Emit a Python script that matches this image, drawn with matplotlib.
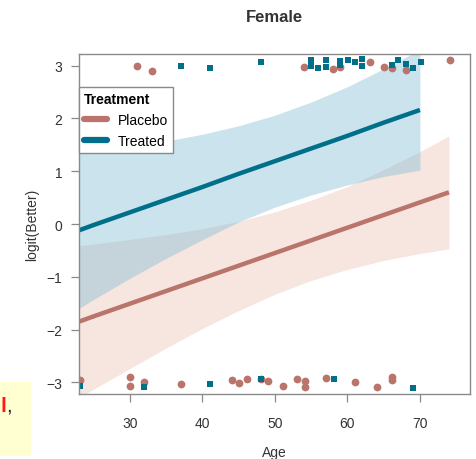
import matplotlib
matplotlib.use("Agg")
import matplotlib.pyplot as plt
from matplotlib.lines import Line2D
from matplotlib.patches import Rectangle

plt.rcParams["font.family"] = ["Liberation Sans", "DejaVu Sans"]

# fitted logit(Better) with 95% band, Placebo group
placebo_age = [23, 25, 30, 35, 40, 45, 50, 55, 60, 65, 70, 74]
placebo_fit = [-1.85, -1.75, -1.51, -1.27, -1.03, -0.79, -0.55, -0.31, -0.07, 0.17, 0.41, 0.60]
placebo_lo = [-3.29, -3.13, -2.74, -2.35, -1.98, -1.64, -1.33, -1.07, -0.86, -0.69, -0.56, -0.47]
placebo_hi = [-0.41, -0.38, -0.29, -0.20, -0.09, 0.05, 0.23, 0.45, 0.71, 1.03, 1.37, 1.67]

# fitted logit(Better) with 95% band, Treated group
treated_age = [23, 25, 30, 35, 40, 45, 50, 55, 60, 65, 70]
treated_fit = [-0.12, -0.02, 0.22, 0.46, 0.70, 0.95, 1.19, 1.43, 1.67, 1.92, 2.16]
treated_lo = [-1.60, -1.43, -1.03, -0.65, -0.30, 0.04, 0.32, 0.55, 0.74, 0.90, 1.02]
treated_hi = [1.36, 1.39, 1.47, 1.57, 1.70, 1.86, 2.06, 2.31, 2.60, 2.94, 3.30]

# jittered observations (Better = yes drawn near +3, no near -3)
placebo_yes_age = [31.0, 33.1, 54.0, 58.0, 59.0, 63.1, 65.1, 66.1, 68.1, 74.1]
placebo_yes_y = [3.00, 2.89, 2.98, 2.93, 2.97, 3.06, 2.98, 2.95, 2.91, 3.11]
placebo_no_age = [23.1, 30.0, 30.0, 32.0, 37.1, 44.1, 45.1, 46.1, 48.1, 49.1,
                  51.1, 53.1, 54.1, 54.1, 57.1, 61.1, 64.1, 66.1, 66.1]
placebo_no_y = [-2.95, -2.89, -3.07, -2.99, -3.03, -2.95, -3.02, -2.94, -2.93, -2.97,
                -3.07, -2.93, -2.97, -3.09, -2.92, -3.00, -3.08, -2.90, -2.95]

treated_yes_age = [37.1, 41.1, 48.1, 55.0, 55.0, 56.0, 57.1, 57.1, 59.0, 59.0,
                   60.1, 61.0, 62.0, 62.0, 66.1, 67.0, 68.1, 69.1, 70.1]
treated_yes_y = [2.99, 2.95, 3.07, 3.11, 3.00, 2.95, 3.11, 2.98, 3.09, 3.02,
                 3.10, 3.06, 3.13, 3.00, 3.02, 3.10, 3.04, 2.95, 3.07]
treated_no_age = [23.2, 32.0, 41.1, 48.1, 58.1, 69.1]
treated_no_y = [-3.06, -3.09, -3.03, -2.94, -2.94, -3.10]

x_ticks = [30, 40, 50, 60, 70]
y_ticks = [-3, -2, -1, 0, 1, 2, 3]

placebo_col = "#b9756b"
treated_col = "#00708a"
grey = "#8a8a8a"

fig = plt.figure(figsize=(4.77, 4.60), dpi=100)

# bit of the slide showing behind the plot
fig.patches.append(Rectangle((0, 3 / 460), 31 / 477, 74 / 460, transform=fig.transFigure,
                             facecolor="#ffffd2", edgecolor="none", zorder=0))
fig.text(0.0, 1 - 412 / 460, "l", color="#ff1a1a", fontsize=15, fontweight="bold")
fig.text(6 / 477, 1 - 412 / 460, ",", color="#222222", fontsize=15)

ax = fig.add_axes([79 / 477, 1 - 395 / 460, 391 / 477, 340 / 460])

ax.fill_between(placebo_age, placebo_lo, placebo_hi, color="#efc7bc", alpha=0.45, lw=0)
ax.fill_between(treated_age, treated_lo, treated_hi, color="#8ac1d5", alpha=0.45, lw=0)
ax.plot(placebo_age, placebo_fit, color=placebo_col, lw=3.2, solid_capstyle="butt")
ax.plot(treated_age, treated_fit, color=treated_col, lw=3.2, solid_capstyle="butt")

ax.plot(placebo_yes_age, placebo_yes_y, "o", color=placebo_col, ms=5.6, mew=0)
ax.plot(placebo_no_age, placebo_no_y, "o", color=placebo_col, ms=5.6, mew=0)
ax.plot(treated_yes_age, treated_yes_y, "s", color=treated_col, ms=4.6, mew=0)
ax.plot(treated_no_age, treated_no_y, "s", color=treated_col, ms=4.6, mew=0)

ax.set_xlim(23, 76.9)
ax.set_ylim(-3.22, 3.22)
ax.set_xticks(x_ticks)
ax.set_yticks(y_ticks)
ax.tick_params(axis="both", length=6, width=0.9, color=grey, labelsize=10, labelcolor="#333333")
ax.tick_params(axis="x", pad=10)
ax.tick_params(axis="y", pad=6)
for s in ax.spines.values():
    s.set_color(grey)
    s.set_linewidth(1)

ax.set_xlabel("Age", fontsize=10, color="#333333", labelpad=11)
ax.set_ylabel("logit(Better)", fontsize=10, color="#333333", labelpad=5)
ax.set_title("Female", fontsize=12, fontweight="bold", color="#333333", pad=24)

handles = [Line2D([], [], color=placebo_col, lw=4.5, solid_capstyle="round"),
           Line2D([], [], color=treated_col, lw=4.5, solid_capstyle="round")]
leg = ax.legend(handles, ["Placebo", "Treated"], title="Treatment", loc="upper left",
                bbox_to_anchor=(0, 0.903), borderaxespad=0, fontsize=10,
                title_fontproperties={"weight": "bold", "size": 10}, alignment="left",
                handlelength=1.65, handletextpad=0.8, borderpad=0.35,
                fancybox=False, framealpha=1, edgecolor=grey)
leg.get_frame().set_linewidth(1)

fig.savefig("out.png", dpi=100)
